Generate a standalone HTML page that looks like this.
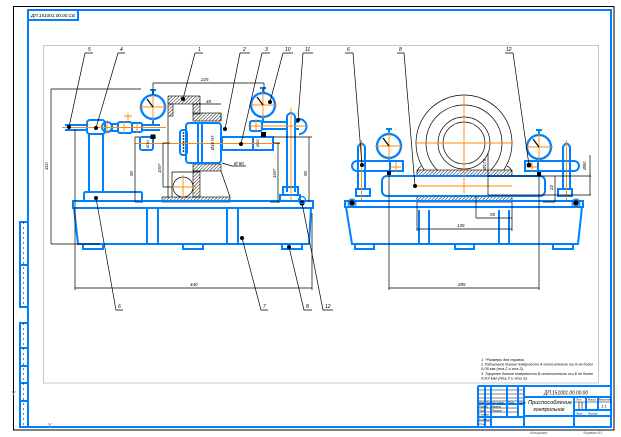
<!DOCTYPE html>
<html><head><meta charset="utf-8"><style>
html,body{margin:0;padding:0;background:#fff;width:621px;height:437px;overflow:hidden}
svg{display:block}
text{font-family:"Liberation Sans","DejaVu Sans",sans-serif;font-style:italic}
</style></head><body>
<svg width="621" height="437" viewBox="0 0 621 437" xmlns="http://www.w3.org/2000/svg">
<defs>
<pattern id="h" width="2.4" height="2.4" patternUnits="userSpaceOnUse" patternTransform="rotate(45)"><line x1="0" y1="0" x2="0" y2="2.4" stroke="#000" stroke-width="0.9"/></pattern>
<clipPath id="c"><rect x="400" y="80" width="130" height="90"/></clipPath>
</defs>
<rect width="621" height="437" fill="#fff"/>

<!-- frames -->
<rect x="13.5" y="6.5" width="600.5" height="423.5" fill="none" stroke="#000" stroke-width="1"/>
<rect x="43.5" y="45.5" width="555" height="337.5" fill="none" stroke="#c8c8c8" stroke-width="1"/>
<rect x="28" y="10" width="583" height="417" fill="none" stroke="#0080ff" stroke-width="2"/>
<rect x="28" y="10" width="50" height="10" fill="none" stroke="#0080ff" stroke-width="2"/>
<text x="31" y="17" font-size="4.6" textLength="44" lengthAdjust="spacingAndGlyphs">ДП.151001.00.00.СБ</text>

<!-- left strip -->
<g stroke="#0080ff" stroke-width="2" fill="none">
<rect x="20" y="222" width="8" height="85"/>
<line x1="20" y1="265" x2="28" y2="265"/>
<rect x="20" y="323" width="8" height="104"/>
<path d="M20 348 H28 M20 366 H28 M20 383 H28 M20 401 H28"/>
</g>
<path d="M23.5 222 V307 M23.5 323 V427" stroke="#000" stroke-width="0.5" stroke-dasharray="2 3"/>
<text x="11" y="396" font-size="7" fill="#888" font-style="normal">Y</text>
<text x="47" y="428" font-size="7" fill="#888" font-style="normal">X</text>

<!-- ================= LEFT VIEW ================= -->
<!-- hatch areas -->
<g fill="url(#h)" stroke="#000" stroke-width="0.6">
<rect x="168" y="96" width="32" height="8"/>
<rect x="168" y="104" width="5" height="12"/>
<rect x="193" y="104" width="7" height="10"/>
<rect x="193" y="113" width="28" height="8"/>
<rect x="193" y="164" width="28" height="7"/>
<rect x="193" y="171" width="7" height="26"/>
<rect x="162" y="197" width="68" height="5"/>
</g>
<g stroke="#000" stroke-width="0.7" fill="none">
<path d="M168 116 V198 M172 172 H200 M172 172 V197"/>
<circle cx="183" cy="187" r="10"/>
<path d="M221 171 L230 197 M221 121 L221 113"/>
</g>
<path d="M171 187 H197 M183 175 V199" stroke="#ff8c00" stroke-width="0.9"/>

<g stroke="#0080ff" stroke-width="2" fill="none">
<!-- base -->
<rect x="73" y="201" width="240" height="7"/>
<path d="M74 208 L78 244 H309 L311 208"/>
<path d="M83 244 v5 h20 v-5 M183 244 v5 h20 v-5 M282 244 v5 h20 v-5"/>
<path d="M147 208 v36 M158 208 v36 M227 208 v36 M238 208 v36"/>
<!-- left pillar -->
<rect x="84" y="192" width="58" height="9" rx="1.5"/>
<path d="M89 192 V134 M103 192 V134"/>
<rect x="87" y="120" width="18" height="14" rx="3"/>
<circle cx="107" cy="127" r="5"/>
<path d="M65 125 H87 M65 130 H87"/>
<rect x="112" y="124" width="6" height="7"/>
<rect x="118" y="122" width="14" height="11" rx="2"/>
<rect x="132" y="123" width="10" height="9" rx="1.5"/>
<path d="M142 125 H160 M142 130 H160"/>
<!-- shaft & hub -->
<rect x="140" y="137" width="13" height="13" rx="2"/>
<rect x="186" y="123" width="35" height="40" rx="3"/>
<path d="M198 123 V163 M202 123 V163"/>
<rect x="180" y="130" width="7" height="25" rx="3"/>
<rect x="222" y="137" width="51" height="13"/>
<path d="M253 137 V150"/>
<!-- right pillar -->
<path d="M287 192 V116 Q291 110 295 116 V192"/>
<rect x="283" y="187" width="15" height="8"/>
<rect x="280" y="195" width="20" height="6"/>
<rect x="250" y="121" width="12" height="10" rx="2"/>
<path d="M262 122 H287 M262 129 H287 M295 122 H299 M295 129 H299"/>
<path d="M299 119 A7 7 0 0 1 299 134"/>
<!-- dials -->
<circle cx="153" cy="107" r="12" stroke-width="2.3"/>
<path d="M153 95 V90 M150 90 H156 M153 119 V125"/>
<circle cx="263" cy="105" r="12" stroke-width="2.3"/>
<path d="M263 93 V88 M260 88 H266 M263 117 V122"/>
</g>
<!-- orange center lines left view -->
<g stroke="#ff8c00" stroke-width="0.9">
<path d="M62 127.5 H166 M135 143.5 H280 M248 126 H306 M291 108 V200"/>
<path d="M139 107 H167 M153 93 V121 M249 105 H277 M263 91 V119"/>
<path d="M107 120 V134 M124 121 V134 M128 113 V122 M124 116 H132 M137 123 V133"/>
<path d="M256 119 V133"/>
</g>
<!-- pointers -->
<path d="M153 107 L147 99 M263 105 L257 97" stroke="#000" stroke-width="1.2"/>
<!-- bearing dots -->
<g fill="#000">
<circle cx="183.5" cy="133" r="0.9"/><circle cx="183.5" cy="136" r="0.9"/><circle cx="183.5" cy="139" r="0.9"/><circle cx="183.5" cy="142" r="0.9"/><circle cx="183.5" cy="145" r="0.9"/><circle cx="183.5" cy="148" r="0.9"/><circle cx="183.5" cy="151" r="0.9"/>
<rect x="150.5" y="134.5" width="5" height="4.5"/>
<rect x="261" y="132" width="5" height="5"/>
</g>
<text transform="rotate(-90 214 150)" x="214" y="150" font-size="4.2">Ø45 H7</text>
<text transform="rotate(-90 149 148)" x="149" y="148" font-size="4">Ø30</text>
<text transform="rotate(-90 259 147)" x="259" y="147" font-size="4">Ø30</text>

<!-- left view dims -->
<g stroke="#000" stroke-width="0.7" fill="none">
<path d="M153 83 H264 M153 83 V95 M264 83 V93"/>
<path d="M51 89 V244 M51 89 H141 M51 244 H100"/>
<path d="M75 288 H312 M75 129 V290 M312 213 V290"/>
<path d="M135 137 V202 M135 137 H140 M135 202 H143"/>
<path d="M309 137 V202 M273 137 H312"/>
<path d="M278 143 V202 M273 143 H280 M270 202 H280"/>
<path d="M163 143 V187 M163 143 H170 M163 187 H172"/>
<path d="M195 104 H221 M222 163 L232 166 H246"/>
</g>
<g font-size="4.5" fill="#000">
<text x="201" y="81">225</text>
<text transform="rotate(-90 48 170)" x="48" y="170">310</text>
<text x="190" y="286">440</text>
<text transform="rotate(-90 133 176)" x="133" y="176">90</text>
<text transform="rotate(-90 307 176)" x="307" y="176">90</text>
<text transform="rotate(-90 276 178)" x="276" y="178">105*</text>
<text transform="rotate(-90 161 173)" x="161" y="173">105*</text>
<text x="206" y="103">40</text>
<text x="234" y="165">Ø 80</text>
</g>

<!-- ================= RIGHT VIEW ================= -->
<g stroke="#000" stroke-width="0.7" fill="none">
<g clip-path="url(#c)">
<circle cx="464" cy="143" r="48"/>
<circle cx="464" cy="143" r="38"/>
</g>
<circle cx="464" cy="143" r="26"/>
<circle cx="464" cy="143" r="21"/>
<path d="M417 172 Q418 168 421 166 M512 172 Q511 168 507 166"/>
</g>
<g fill="url(#h)" stroke="#000" stroke-width="0.6">
<rect x="417" y="170" width="95" height="6"/>
<rect x="417" y="196" width="95" height="6"/>
</g>
<g stroke="#0080ff" stroke-width="2" fill="none">
<rect x="345" y="201" width="238" height="6"/>
<path d="M346 207 L352 244 H578 L582 207"/>
<path d="M355 244 v5 h19 v-5 M455 244 v5 h19 v-5 M553 244 v5 h20 v-5"/>
<path d="M419 210 v34 M429 210 v34 M499 210 v34 M509 210 v34"/>
<rect x="382" y="176" width="163" height="20" rx="5"/>
<!-- left post -->
<path d="M358 190 V147 Q361.5 140 365 147 V190"/>
<rect x="356" y="189" width="14" height="7"/>
<path d="M357 161 H403 V171 H357"/>
<path d="M357 161 A5 5 0 0 0 357 171"/>
<path d="M390 161 V171"/>
<!-- right post -->
<path d="M563 190 V147 Q566.5 140 570 147 V190"/>
<rect x="558" y="189" width="14" height="7"/>
<path d="M574 161 H525 V171 H574"/>
<path d="M574 161 A5 5 0 0 1 574 171"/>
<path d="M538 161 V171"/>
<!-- dials -->
<circle cx="389" cy="146" r="12" stroke-width="2.3"/>
<path d="M389 134 V129 M386 129 H392 M389 158 V161"/>
<circle cx="539" cy="147" r="12" stroke-width="2.3"/>
<path d="M539 135 V130 M536 130 H542 M539 159 V161"/>
</g>
<g stroke="#ff8c00" stroke-width="0.9">
<path d="M464 94 V193 M415 143 H513 M413 186 H512"/>
<path d="M361.5 140 V200 M566.5 140 V200"/>
<path d="M375 146 H403 M389 132 V160 M525 147 H553 M539 133 V161"/>
<path d="M391 167 H401 M396 162 V172 M527 167 H537 M532 162 V172"/>
</g>
<path d="M389 146 L383 138 M539 147 L533 139" stroke="#000" stroke-width="1.2"/>
<g fill="#000">
<rect x="387" y="171" width="4" height="4"/>
<rect x="537" y="172" width="4" height="4"/>
</g>
<!-- right view dims -->
<g stroke="#000" stroke-width="0.7" fill="none">
<path d="M389 174 V290 M539 174 V290 M389 288 H539"/>
<path d="M417 202 V231 M512 202 V231 M417 229 H512"/>
<path d="M476 196 V218 M476 218 H512"/>
<path d="M488 176 H591 M488 195 H591 M590 155 V195 M488 153 V195"/>
<path d="M555 176 V202 M543 202 H555"/>
</g>
<g font-size="4.5" fill="#000">
<text x="458" y="286">285</text>
<text x="457" y="227">135</text>
<text x="490" y="216">55</text>
<text transform="rotate(-90 486 170)" x="486" y="170">Ø175</text>
<text transform="rotate(-90 586 170)" x="586" y="170">Ø60</text>
<text transform="rotate(-90 553 190)" x="553" y="190">22</text>
</g>

<!-- leaders -->
<g stroke="#000" stroke-width="0.7" fill="none">
<path d="M85 53 H93 M85 53 L69 127"/>
<path d="M118 53 H125 M118 53 L96 128"/>
<path d="M195 53 H203 M195 53 L183 99"/>
<path d="M240 53 H250 M240 53 L225 129"/>
<path d="M262 53 H270 M262 53 L241 144"/>
<path d="M283 53 H293 M283 53 L270 102"/>
<path d="M303 53 H313 M303 53 L298 120"/>
<path d="M96 198 L116 310 H123"/>
<path d="M242 238 L261 310 H268"/>
<path d="M289 247 L304 310 H312"/>
<path d="M302 203 L323 310 H333"/>
<path d="M345 53 H353 L362 165"/>
<path d="M397 53 H404 L415 186"/>
<path d="M505 53 H513 L529 165"/>
</g>
<g fill="#000">
<circle cx="69" cy="127" r="2"/><circle cx="96" cy="128" r="2"/><circle cx="183" cy="99" r="2"/>
<circle cx="225" cy="129" r="2"/><circle cx="241" cy="144" r="2"/><circle cx="270" cy="102" r="2"/>
<circle cx="298" cy="120" r="2"/><circle cx="96" cy="198" r="2"/><circle cx="242" cy="238" r="2"/>
<circle cx="289" cy="247" r="2"/><circle cx="302" cy="203" r="2.6"/>
<circle cx="362" cy="165" r="2"/><circle cx="415" cy="186" r="2"/><circle cx="529" cy="165" r="2.4"/>
<circle cx="352" cy="203" r="2.8"/><circle cx="576" cy="203" r="2.8"/>
</g>
<g fill="none" stroke="#0080ff" stroke-width="1.2">
<circle cx="352" cy="203" r="4"/><circle cx="576" cy="203" r="4"/><circle cx="302" cy="200" r="3.5"/>
</g>
<g font-size="5" fill="#000">
<text x="88" y="51">5</text><text x="120" y="51">4</text><text x="198" y="51">1</text>
<text x="243" y="51">2</text><text x="265" y="51">3</text><text x="285" y="51">10</text>
<text x="305" y="51">11</text>
<text x="118" y="308">6</text><text x="263" y="308">7</text><text x="306" y="308">8</text><text x="325" y="308">12</text>
<text x="347" y="51">6</text><text x="399" y="51">8</text><text x="506" y="51">12</text>
</g>

<!-- notes -->
<g font-size="4" fill="#000">
<text x="481" y="361" textLength="44" lengthAdjust="spacingAndGlyphs">1. *Размеры для справок.</text>
<text x="481" y="365.5" textLength="112" lengthAdjust="spacingAndGlyphs">2. Радиальное биение поверхности А относительно оси Б не более</text>
<text x="481" y="370" textLength="43" lengthAdjust="spacingAndGlyphs">0,05 мм (поз.2 и поз.3).</text>
<text x="481" y="375" textLength="112" lengthAdjust="spacingAndGlyphs">3. Торцевое биение поверхности В относительно оси Б не более</text>
<text x="481" y="379.5" textLength="47" lengthAdjust="spacingAndGlyphs">0,03 мм (поз.2 и поз.3).</text>
</g>

<!-- title block -->
<g stroke="#000" stroke-width="0.6" fill="none">
<path d="M478 390 H524 M478 394 H524 M478 398 H524 M478 401 H524 M478 408 H518 M478 412 H518 M478 421 H491 M574 402 H611 M579 402 V410 M582 402 V410"/>
</g>
<g stroke="#0080ff" stroke-width="2" fill="none">
<path d="M478 386 H611 M478 386 V427 M524 386 V427 M485 386 V427 M491 386 V427 M507 386 V417 M518 386 V417 M478 404 H524 M478 417 H524 M524 397 H611 M574 397 V427 M524 416 H611 M574 410 H611 M586 397 V410 M598 397 V410"/>
</g>
<text x="566" y="394.5" font-size="5" text-anchor="middle" textLength="44" lengthAdjust="spacingAndGlyphs">ДП.151001.00.00.00</text>
<text x="550" y="404" font-size="5.5" text-anchor="middle" textLength="44" lengthAdjust="spacingAndGlyphs">Приспособление</text>
<text x="549" y="411" font-size="5.5" text-anchor="middle" textLength="31" lengthAdjust="spacingAndGlyphs">контрольное</text>
<g font-size="2.6" fill="#000">
<text x="576" y="400.5">Лит.</text><text x="588" y="400.5">Масса</text><text x="599" y="400.5">Масштаб</text>
<text x="576" y="414.5">Лист</text><text x="588" y="414.5">Листов</text>
<text x="479" y="403.5">Изм.</text><text x="486" y="403.5">Лист</text><text x="493" y="403.5">№ докум.</text><text x="508" y="403.5">Подп.</text><text x="519" y="403.5">Дата</text>
<text x="479" y="407.5">Разраб.</text><text x="492" y="407.5">Иванов</text>
<text x="479" y="411.5">Пров.</text><text x="492" y="411.5">Петров</text>
<text x="479" y="415.5">Т.контр.</text>
<text x="479" y="420.5">Н.контр.</text>
<text x="479" y="425">Утв.</text>
</g>
<text x="601" y="407.5" font-size="4">1:1</text>
<text x="530" y="434" font-size="3.5" fill="#555">Копировал</text>
<text x="583" y="434" font-size="3.5" fill="#555">Формат А3</text>
</svg>
</body></html>
